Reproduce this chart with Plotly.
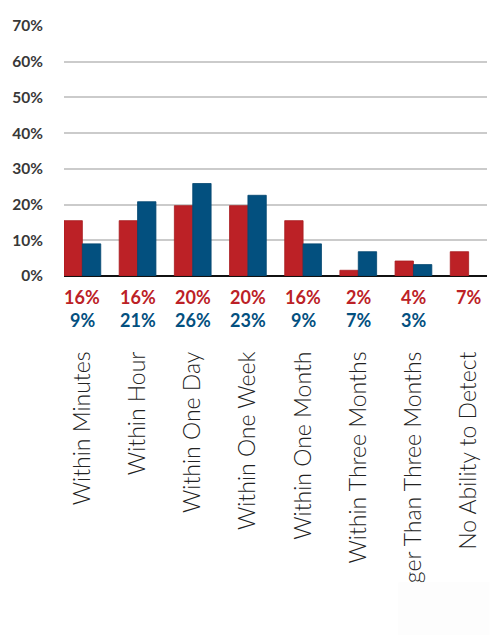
import plotly.graph_objects as go

categories = ["Within Minutes", "Within Hour", "Within One Day", "Within One Week",
              "Within One Month", "Within Three Months", "Longer Than Three Months",
              "No Ability to Detect"]
red_values = [15.5, 15.5, 19.7, 19.7, 15.5, 1.6, 4.2, 6.8]
blue_values = [9.0, 20.8, 25.9, 22.6, 9.0, 6.8, 3.2, None]
red_labels = ["16%", "16%", "20%", "20%", "16%", "2%", "4%", "7%"]
blue_labels = ["9%", "21%", "26%", "23%", "9%", "7%", "3%", ""]
y_ticks = [0, 10, 20, 30, 40, 50, 60, 70]
y_tick_text = ["0%", "10%", "20%", "30%", "40%", "50%", "60%", "70%"]

RED = "#bc2126"
BLUE = "#03507f"

fig = go.Figure()
fig.add_trace(go.Bar(x=categories, y=red_values, marker=dict(color=RED, line=dict(color="#a81c20", width=0.8)),
                     showlegend=False, hoverinfo="skip"))
fig.add_trace(go.Bar(x=categories, y=blue_values, marker=dict(color=BLUE, line=dict(color="#02456e", width=0.8)),
                     showlegend=False, hoverinfo="skip"))

annotations = []
for cat, rl, bl in zip(categories, red_labels, blue_labels):
    annotations.append(dict(x=cat, xref="x", y=-0.084, yref="paper", text=rl, showarrow=False,
                            font=dict(family="Lato", size=18, color=RED, weight="bold"),
                            xanchor="center", yanchor="middle"))
    if bl:
        annotations.append(dict(x=cat, xref="x", y=-0.175, yref="paper", text=bl, showarrow=False,
                                font=dict(family="Lato", size=18, color=BLUE, weight="bold"),
                                xanchor="center", yanchor="middle"))

fig.update_layout(
    width=492, height=627,
    margin=dict(l=56, r=13, t=18, b=359),
    paper_bgcolor="white", plot_bgcolor="white",
    barmode="group", bargap=0.334, bargroupgap=0,
    annotations=annotations,
    shapes=[dict(type="rect", xref="paper", yref="paper", x0=0.79, x1=1.006, y0=-1.225, y1=-1.5,
                 fillcolor="#fdfdfd", line=dict(width=0), layer="above")],
    xaxis=dict(range=[-0.333, 7.333], tickangle=-90, ticklabelstandoff=70, automargin=False,
               tickfont=dict(family="Lato", size=23, color="#222222", weight=300),
               showgrid=False, showline=False, ticks="", fixedrange=True),
    yaxis=dict(range=[0, 70], tickvals=y_ticks, ticktext=y_tick_text, automargin=False,
               tickfont=dict(family="Lato", size=15.5, color="#383838", weight="bold"),
               showgrid=True, gridcolor="#cbcbcb", gridwidth=1.5,
               zeroline=True, zerolinecolor="#111111", zerolinewidth=2,
               ticks="outside", ticklen=17, tickcolor="rgba(0,0,0,0)", showline=False),
)

fig.write_html("out.html")
